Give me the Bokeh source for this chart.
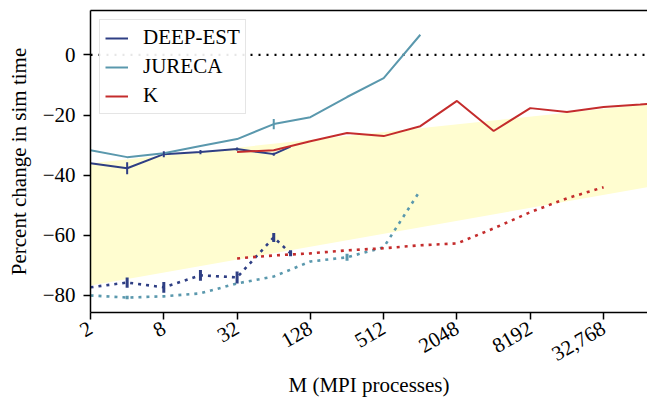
import math
import numpy as np
from bokeh.plotting import figure
from bokeh.models import FixedTicker, Span, Legend, LegendItem, LogAxis
from bokeh.embed import file_html
from bokeh.resources import INLINE

# ---------------- data ----------------
procs_deep = [2, 4, 8, 16, 32, 64, 88]
deep_solid = [-36.0, -37.7, -33.0, -32.3, -31.3, -33.0, -30.5]
deep_solid_err = [0.0, 2.0, 1.0, 0.7, 0.5, 0.5, 0.0]
deep_dotted = [-77.3, -75.7, -77.3, -73.3, -74.0, -60.7, -66.0]
deep_dotted_err = [0.0, 1.7, 1.8, 1.8, 2.0, 1.5, 1.0]

procs_jureca = [2, 4, 8, 16, 32, 64, 128, 256, 512, 1024]
jureca_solid = [-31.7, -34.0, -32.7, -30.3, -28.0, -23.0, -20.7, -14.0, -7.7, 6.7]
jureca_solid_err = [0.0, 0.0, 0.0, 0.0, 0.0, 1.7, 0.0, 0.0, 0.0, 0.0]
jureca_dotted = [-80.0, -80.7, -80.3, -79.3, -76.0, -73.7, -68.7, -67.3, -64.0, -45.0]
jureca_dotted_err = [0.0, 0.6, 0.0, 0.0, 0.0, 0.0, 0.0, 1.2, 0.0, 0.0]

procs_k = [32, 64, 128, 256, 512, 1024, 2048, 4096, 8192, 16384, 32768, 65536, 82944]
k_solid = [-32.3, -31.7, -28.7, -26.0, -27.0, -23.7, -15.3, -25.3, -17.7, -19.0, -17.3, -16.5, -16.2]
procs_k_dotted = [32, 64, 128, 256, 512, 1024, 2048, 4096, 8192, 16384, 32768]
k_dotted = [-67.7, -66.7, -66.0, -65.0, -64.3, -63.3, -62.7, -57.7, -52.3, -47.7, -44.0]

band_x = [2, 82944]
band_lo = [-76.7, -43.7]
band_hi = [-36.0, -16.2]

x_ticks = [2, 8, 32, 128, 512, 2048, 8192, 32768]
x_tick_labels = ["2", "8", "32", "128", "512", "2048", "8192", "32,768"]
y_ticks = [0, -20, -40, -60, -80]

# ---------------- style ----------------
C_DEEP = "#2F3F84"
C_JUR = "#5A98AD"
C_K = "#C42C2C"
BAND = "#FFFDD0"
FONT = "Liberation Serif, Times New Roman, DejaVu Serif, serif"
FS = "21px"

p = figure(width=647, height=401, x_axis_type="log",
           x_range=(2, 75200), y_range=(-85.67, 14.77),
           output_backend="svg", toolbar_location=None,
           min_border_left=90, min_border_right=0,
           min_border_top=10, min_border_bottom=89)
p.grid.visible = False
p.outline_line_color = None
p.background_fill_color = "white"
p.border_fill_color = "white"

# band
p.varea(x=band_x, y1=band_lo, y2=band_hi, fill_color=BAND, fill_alpha=1.0)

# zero line
p.add_layout(Span(location=0, dimension="width", line_color="black",
                  line_width=2.4, line_dash="2 6", level="underlay"))

def errbars(x, y, e, color, w):
    y = np.asarray(y); e = np.asarray(e)
    p.segment(x0=x, x1=x, y0=y - e, y1=y + e, line_color=color, line_width=w)

# dotted series
for xs, ys, c in [(procs_jureca, jureca_dotted, C_JUR),
                  (procs_deep, deep_dotted, C_DEEP),
                  (procs_k_dotted, k_dotted, C_K)]:
    p.line(xs, ys, line_color=c, line_width=2.6, line_dash="3 5")
errbars(procs_jureca, jureca_dotted, jureca_dotted_err, C_JUR, 3)
errbars(procs_deep, deep_dotted, deep_dotted_err, C_DEEP, 3)

# solid series
r_deep = p.line(procs_deep, deep_solid, line_color=C_DEEP, line_width=2)
r_jur = p.line(procs_jureca, jureca_solid, line_color=C_JUR, line_width=2)
r_k = p.line(procs_k, k_solid, line_color=C_K, line_width=2)
errbars(procs_deep, deep_solid, deep_solid_err, C_DEEP, 2)
errbars(procs_jureca, jureca_solid, jureca_solid_err, C_JUR, 2)

# axes
for ax in (p.xaxis[0], p.yaxis[0]):
    ax.axis_line_width = 1.5
    ax.axis_line_color = "black"
    ax.major_tick_line_width = 1.5
    ax.major_tick_line_color = "black"
    ax.major_tick_out = 7
    ax.major_tick_in = 0
    ax.minor_tick_line_color = None
    ax.major_label_text_font = FONT
    ax.major_label_text_font_size = FS
    ax.major_label_text_color = "black"
    ax.axis_label_text_font = FONT
    ax.axis_label_text_font_size = FS
    ax.axis_label_text_font_style = "normal"
    ax.axis_label_text_color = "black"

p.xaxis[0].ticker = FixedTicker(ticks=x_ticks)
p.xaxis[0].major_label_overrides = {t: l for t, l in zip(x_ticks, x_tick_labels)}
p.xaxis[0].major_label_orientation = math.pi / 6
p.xaxis[0].major_label_standoff = 7
p.xaxis[0].axis_label = "M (MPI processes)"
p.xaxis[0].axis_label_standoff = 3

p.yaxis[0].ticker = FixedTicker(ticks=y_ticks)
p.yaxis[0].major_label_standoff = 8
p.yaxis[0].axis_label = "Percent change in sim time"
p.yaxis[0].axis_label_standoff = 9

# top spine
top = LogAxis(ticker=FixedTicker(ticks=[]), axis_line_width=1.5,
              axis_line_color="black", major_tick_out=0, major_tick_in=0,
              minor_tick_out=0, minor_tick_in=0,
              major_label_text_font_size="0px")
p.add_layout(top, "above")

legend = Legend(items=[LegendItem(label="DEEP-EST", renderers=[r_deep]),
                       LegendItem(label="JURECA", renderers=[r_jur]),
                       LegendItem(label="K", renderers=[r_k])],
                location="top_left", margin=9, padding=5, spacing=4,
                glyph_width=23, glyph_height=20, label_height=20,
                label_standoff=15, label_text_font=FONT,
                label_text_font_size=FS, label_text_color="black",
                border_line_color="#CCCCCC", border_line_width=1.5,
                background_fill_color="white", background_fill_alpha=0.9)
p.add_layout(legend)

open("out.html", "w").write(file_html(p, INLINE))
